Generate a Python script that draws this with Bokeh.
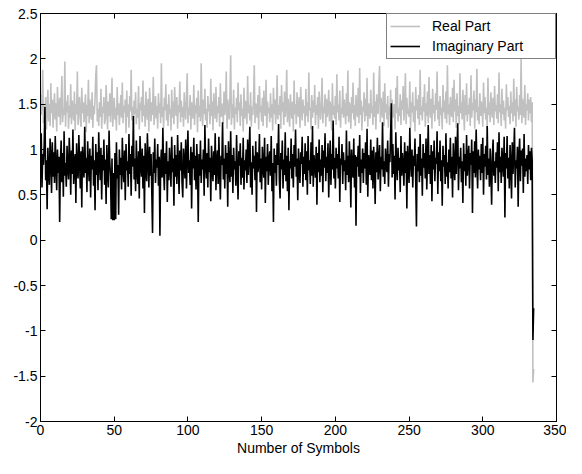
from bokeh.plotting import figure
from bokeh.models import Range1d, FixedTicker, LinearAxis, Legend, LegendItem, ColumnDataSource
from bokeh.embed import file_html
from bokeh.resources import INLINE

# ---- data, two samples per symbol ----
samples_per_symbol = 2

real_part = [
    1.60, 1.38, 1.52, 1.88, 1.29, 1.47, 1.35, 1.58, 1.22, 1.44, 1.66, 1.31, 1.50, 1.26, 1.73, 1.40, 1.55, 1.24, 1.46, 1.62,
    1.33, 1.51, 1.20, 1.69, 1.42, 1.36, 1.57, 1.27, 1.49, 1.81, 1.30, 1.45, 1.38, 1.97, 1.25, 1.53, 1.41, 1.60, 1.23, 1.48,
    1.35, 1.72, 1.28, 1.54, 1.43, 1.32, 1.64, 1.21, 1.50, 1.39, 1.86, 1.27, 1.46, 1.58, 1.34, 1.25, 1.68, 1.40, 1.52, 1.30,
    1.44, 1.61, 1.19, 1.49, 1.37, 1.77, 1.29, 1.55, 1.42, 1.33, 1.63, 1.24, 1.48, 1.39, 1.56, 1.82, 1.93, 1.31, 1.45, 1.26,
    1.52, 1.36, 1.67, 1.23, 1.47, 1.40, 1.58, 1.28, 1.34, 1.71, 1.45, 1.22, 1.53, 1.37, 1.62, 1.30, 1.49, 1.79, 1.25, 1.43,
    1.57, 1.33, 1.46, 1.21, 1.69, 1.38, 1.51, 1.27, 1.44, 1.60, 1.35, 1.74, 1.29, 1.48, 1.41, 1.55, 1.18, 1.65, 1.36, 1.50,
    1.24, 1.59, 1.42, 1.88, 1.32, 1.47, 1.26, 1.54, 1.39, 1.63, 1.28, 1.45, 1.35, 1.70, 1.22, 1.51, 1.43, 1.58, 1.30, 1.76,
    1.37, 1.49, 1.25, 1.64, 1.41, 1.33, 1.56, 1.20, 1.68, 1.46, 1.31, 1.52, 1.38, 1.80, 1.27, 1.45, 1.59, 1.34, 1.48, 1.23,
    1.62, 1.40, 1.51, 1.29, 1.95, 1.36, 1.47, 1.24, 1.57, 1.43, 1.72, 1.32, 1.50, 1.26, 1.61, 1.39, 1.45, 1.21, 1.66, 1.35,
    1.53, 1.28, 1.69, 1.44, 1.37, 1.58, 1.23, 1.49, 1.41, 1.75, 1.30, 1.54, 1.36, 1.47, 1.25, 1.63, 1.42, 1.33, 1.56, 1.84,
    1.29, 1.46, 1.38, 1.60, 1.22, 1.52, 1.44, 1.34, 1.71, 1.27, 1.49, 1.40, 1.57, 1.19, 1.65, 1.36, 1.48, 1.31, 1.95, 1.43,
    1.26, 1.55, 1.39, 1.67, 1.32, 1.45, 1.24, 1.59, 1.42, 1.50, 1.28, 1.78, 1.37, 1.53, 1.21, 1.62, 1.46, 1.34, 1.69, 1.30,
    1.48, 1.40, 1.58, 1.25, 1.73, 1.36, 1.51, 1.44, 1.29, 1.64, 1.38, 1.47, 1.86, 1.23, 1.55, 1.41, 1.33, 1.60, 2.04, 1.27,
    1.50, 1.35, 1.66, 1.22, 1.46, 1.39, 1.57, 1.30, 1.74, 1.43, 1.52, 1.26, 1.61, 1.37, 1.45, 1.20, 1.68, 1.34, 1.54, 1.42,
    1.28, 1.81, 1.40, 1.49, 1.32, 1.63, 1.25, 1.47, 1.38, 1.56, 1.93, 1.29, 1.51, 1.44, 1.35, 1.60, 1.22, 1.70, 1.41, 1.48,
    1.31, 1.57, 1.26, 1.65, 1.43, 1.37, 1.77, 1.24, 1.53, 1.40, 1.46, 1.30, 1.62, 1.35, 1.50, 1.21, 1.68, 1.39, 1.55, 1.28,
    1.44, 1.82, 1.33, 1.49, 1.38, 1.59, 1.23, 1.71, 1.42, 1.52, 1.27, 1.64, 1.36, 1.47, 1.88, 1.30, 1.56, 1.41, 1.25, 1.61,
    1.45, 1.34, 1.53, 1.20, 1.76, 1.39, 1.50, 1.28, 1.63, 1.42, 1.36, 1.58, 1.24, 1.69, 1.44, 1.32, 1.55, 1.40, 1.48, 1.26,
    1.67, 1.37, 1.52, 1.30, 1.85, 1.43, 1.46, 1.22, 1.60, 1.35, 1.54, 1.41, 1.71, 1.27, 1.49, 1.38, 1.58, 1.23, 1.64, 1.45,
    1.33, 1.50, 1.79, 1.29, 1.47, 1.40, 1.61, 1.25, 1.56, 1.36, 1.44, 1.66, 1.31, 1.53, 1.42, 1.21, 1.73, 1.38, 1.48, 1.34,
    1.59, 1.27, 1.83, 1.41, 1.50, 1.32, 1.65, 1.24, 1.46, 1.39, 1.70, 1.35, 1.55, 1.43, 1.28, 1.62, 1.37, 1.87, 1.30, 1.52,
    1.45, 1.23, 1.58, 1.40, 1.74, 1.33, 1.49, 1.26, 1.60, 1.44, 1.36, 1.68, 1.29, 1.90, 1.38, 1.54, 1.21, 1.47, 1.42, 1.63,
    1.31, 1.56, 1.37, 1.79, 1.25, 1.51, 1.44, 1.34, 1.66, 1.40, 1.48, 1.27, 1.85, 1.36, 1.53, 1.22, 1.61, 1.45, 1.39, 1.71,
    1.92, 1.30, 1.57, 1.43, 1.35, 1.64, 1.26, 1.73, 1.41, 1.50, 1.33, 1.59, 1.24, 1.47, 1.38, 1.66, 1.29, 1.55, 1.42, 1.35,
    1.50, 1.22, 1.68, 1.40, 1.81, 1.31, 1.46, 1.37, 1.61, 1.27, 1.54, 1.44, 1.70, 1.32, 1.49, 1.84, 1.28, 1.57, 1.39, 1.45,
    1.36, 1.75, 1.24, 1.52, 1.41, 1.63, 1.30, 1.48, 1.20, 1.69, 1.43, 1.55, 1.34, 1.60, 1.27, 1.88, 1.38, 1.47, 1.32, 1.58,
    1.42, 1.72, 1.25, 1.51, 1.37, 1.64, 1.29, 1.80, 1.45, 1.35, 1.56, 1.23, 1.67, 1.40, 1.49, 1.31, 1.62, 1.44, 1.86, 1.33,
    1.53, 1.26, 1.59, 1.38, 1.46, 1.22, 1.71, 1.41, 1.54, 1.34, 1.64, 1.29, 1.93, 1.39, 1.50, 1.27, 1.58, 1.43, 1.36, 1.68,
    1.30, 1.77, 1.42, 1.55, 1.24, 1.62, 1.37, 1.48, 1.28, 1.84, 1.40, 1.52, 1.33, 1.66, 1.45, 1.21, 1.60, 1.38, 1.73, 1.31,
    1.49, 1.39, 1.57, 1.26, 1.82, 1.35, 1.51, 1.43, 1.65, 1.23, 1.55, 1.41, 1.89, 1.32, 1.47, 1.28, 1.62, 1.37, 1.53, 1.44,
    1.25, 1.74, 1.40, 1.58, 1.33, 1.46, 1.22, 1.79, 1.38, 1.52, 1.30, 1.63, 1.45, 1.35, 1.57, 1.27, 1.70, 1.42, 1.49, 1.34,
    1.61, 1.29, 1.85, 1.41, 1.50, 1.26, 1.67, 1.39, 1.54, 1.32, 1.46, 1.23, 1.72, 1.43, 1.58, 1.36, 1.48, 1.28, 1.64, 1.40,
    1.52, 1.31, 1.78, 1.37, 1.55, 1.25, 1.69, 1.42, 1.47, 1.33, 1.60, 1.38, 2.00, 1.29, 1.56, 1.44, 1.35, 1.71, 1.27, 1.50,
    1.43, 1.62, 1.32, 1.55, 1.40, 1.58, 1.30, 1.52,
    -1.57, -1.42,
]

imag_part = [
    0.72, 1.18, 0.58, 0.95, 0.83, 1.05, 1.47, 0.66, 0.88, 0.34, 1.02, 0.77, 0.61, 1.12, 0.90, 0.52, 1.08, 0.70, 0.97, 0.63,
    1.15, 0.80, 0.55, 1.00, 0.74, 0.92, 0.20, 0.86, 1.10, 0.64, 0.96, 0.48, 1.20, 0.71, 0.85, 0.59, 1.04, 0.79, 0.67, 1.13,
    0.89, 0.50, 0.99, 0.73, 1.22, 0.62, 0.84, 0.95, 0.41, 1.07, 0.76, 0.68, 1.16, 0.87, 0.57, 0.98, 0.36, 1.03, 0.81, 0.69,
    1.25, 0.74, 0.91, 0.53, 1.09, 0.82, 0.65, 1.01, 0.47, 0.93, 0.78, 1.14, 0.60, 0.88, 0.33, 1.06, 0.72, 0.97, 0.55, 1.19,
    0.84, 0.66, 1.02, 0.45, 0.94, 0.77, 1.11, 0.61, 0.89, 0.40, 1.05, 0.75, 0.58, 1.21, 0.86, 0.70, 0.23, 0.90, 0.22, 0.74,
    0.22, 0.96, 0.23, 1.08, 0.68, 0.83, 0.28, 1.00, 0.72, 0.91, 0.56, 1.13, 0.80, 0.64, 0.99, 0.44, 1.06, 0.77, 0.87, 0.59,
    1.17, 0.73, 0.95, 0.49, 1.04, 0.81, 1.37, 0.67, 0.90, 0.54, 1.10, 0.76, 0.62, 0.98, 0.46, 1.15, 0.85, 0.70, 1.01, 0.57,
    0.93, 0.30, 1.07, 0.79, 0.65, 1.18, 0.88, 0.58, 1.03, 0.71, 0.95, 0.52, 0.08, 0.97, 0.74, 1.12, 0.63, 0.89, 0.80, 1.06,
    0.60, 0.92, 0.05, 0.84, 1.00, 0.69, 1.24, 0.78, 0.55, 0.96, 0.73, 1.09, 0.42, 0.87, 0.66, 1.02, 0.81, 0.59, 1.14, 0.75,
    0.90, 0.38, 1.05, 0.70, 0.94, 0.62, 1.16, 0.83, 0.51, 0.99, 0.77, 1.08, 0.64, 0.47, 1.01, 0.86, 0.68, 1.11, 0.57, 0.92,
    1.21, 0.74, 0.88, 0.61, 1.03, 0.35, 0.97, 0.79, 1.13, 0.66, 0.93, 0.56, 1.06, 0.82, 0.20, 0.95, 0.71, 1.10, 0.63, 0.89,
    0.78, 1.00, 0.49, 1.27, 0.84, 0.68, 0.96, 0.58, 1.12, 0.75, 0.91, 0.43, 1.04, 0.80, 0.65, 0.98, 0.72, 1.18, 0.55, 0.87,
    0.99, 0.62, 1.14, 0.76, 0.45, 0.93, 0.83, 1.30, 0.67, 0.90, 0.57, 1.05, 0.73, 0.96, 0.37, 1.09, 0.81, 0.64, 1.20, 0.70,
    0.94, 0.52, 1.02, 0.78, 0.87, 0.60, 1.16, 0.74, 0.45, 0.98, 0.82, 1.07, 0.61, 0.91, 0.69, 1.13, 0.56, 0.88, 0.77, 1.00,
    0.63, 1.11, 0.72, 0.95, 1.25, 0.58, 0.86, 0.50, 1.04, 0.79, 0.93, 0.66, 1.09, 0.31, 0.97, 0.75, 0.84, 1.17, 0.64, 0.90,
    0.56, 1.03, 0.80, 0.69, 1.13, 0.41, 0.92, 0.76, 1.06, 0.61, 0.88, 0.98, 0.71, 1.15, 0.54, 0.85, 0.20, 1.01, 0.74, 0.94,
    0.60, 1.07, 0.83, 1.28, 0.67, 0.46, 0.96, 0.78, 1.10, 0.57, 0.89, 0.72, 1.19, 0.65, 0.93, 0.54, 1.02, 0.33, 0.87, 0.79,
    1.12, 0.68, 0.95, 0.58, 1.05, 0.81, 1.22, 0.70, 0.90, 0.44, 1.01, 0.76, 0.63, 0.97, 0.84, 1.14, 0.59, 0.92, 0.73, 1.07,
    0.66, 0.98, 0.50, 1.15, 0.77, 0.88, 0.62, 1.08, 0.71, 1.26, 0.59, 0.94, 0.82, 0.69, 1.03, 0.39, 0.96, 0.75, 1.11, 0.64,
    0.89, 0.71, 1.05, 0.53, 0.99, 0.80, 1.18, 0.65, 0.92, 0.74, 1.07, 0.47, 0.86, 1.10, 0.61, 0.95, 0.78, 1.32, 0.68, 0.91,
    0.57, 1.02, 0.79, 0.95, 0.68, 1.14, 0.42, 0.90, 0.83, 1.06, 0.62, 0.97, 0.76, 0.88, 0.55, 1.21, 0.72, 0.93, 0.64, 1.09,
    0.85, 0.36, 1.00, 0.77, 0.69, 1.12, 0.58, 0.94, 0.16, 0.92, 0.81, 1.04, 0.70, 1.16, 0.52, 0.89, 0.74, 1.01, 0.63, 0.96,
    0.79, 1.08, 0.61, 1.23, 0.48, 0.94, 0.84, 0.72, 1.11, 0.66, 0.99, 0.57, 1.03, 0.80, 0.40, 0.97, 0.75, 1.13, 0.67, 0.88,
    1.05, 0.54, 0.92, 0.78, 1.30, 0.70, 0.87, 0.62, 1.01, 0.83, 0.75, 1.10, 0.59, 0.95, 0.86, 1.18, 1.51, 0.69, 1.06, 0.73,
    0.93, 0.45, 1.19, 0.81, 0.66, 1.02, 0.77, 0.91, 0.53, 1.15, 0.71, 0.96, 0.84, 0.60, 1.08, 0.74, 0.98, 0.35, 1.04, 0.79,
    0.63, 1.24, 0.87, 0.70, 1.00, 0.58, 0.93, 0.82, 1.12, 0.67, 0.15, 0.95, 0.76, 1.03, 0.64, 1.17, 0.71, 0.90, 0.49, 1.06,
    0.80, 0.96, 0.68, 1.12, 0.56, 0.89, 1.27, 0.73, 0.94, 0.62, 1.05, 0.43, 0.98, 0.78, 1.10, 0.65, 0.91, 0.84, 1.20, 0.51,
    0.97, 0.76, 1.10, 0.65, 0.88, 0.38, 1.04, 0.81, 0.94, 0.62, 1.18, 0.70, 0.86, 0.57, 1.00, 0.75, 1.13, 0.68, 0.92, 0.47,
    1.07, 0.82, 0.66, 1.14, 0.73, 0.99, 1.29, 0.55, 0.92, 0.79, 1.02, 0.64, 0.87, 0.41, 1.07, 0.76, 0.95, 0.60, 1.16, 0.71,
    0.89, 1.04, 0.57, 0.96, 0.83, 1.11, 0.30, 0.98, 0.74, 1.09, 0.69, 1.22, 0.85, 0.57, 1.00, 0.78, 0.93, 0.66, 1.06, 0.74,
    1.13, 0.50, 0.95, 0.81, 1.04, 0.67, 1.26, 0.72, 0.90, 0.59, 1.01, 0.77, 0.39, 0.94, 1.11, 0.71, 0.87, 0.63, 0.97, 0.80,
    1.08, 0.54, 1.19, 0.75, 0.92, 0.63, 1.02, 0.85, 0.70, 1.14, 0.25, 0.96, 0.79, 1.15, 0.68, 0.91, 0.57, 1.05, 0.84, 0.46,
    1.08, 0.73, 0.95, 1.24, 0.58, 0.88, 0.79, 1.03, 0.37, 0.94, 1.12, 0.65, 0.99, 0.82, 1.01, 0.52, 1.17, 0.70, 0.90, 0.76,
    0.94, 0.62, 1.05, 0.78, 0.98, 0.66, 1.02, 0.88,
    -1.10, -0.75,
]

sample_index = list(range(len(real_part)))
symbols = [i / samples_per_symbol for i in sample_index]

x_ticks = [0, 50, 100, 150, 200, 250, 300, 350]
x_tick_labels = ["0", "50", "100", "150", "200", "250", "300", "350"]
y_ticks = [-2, -1.5, -1, -0.5, 0, 0.5, 1, 1.5, 2, 2.5]
y_tick_labels = ["-2", "-1.5", "-1", "-0.5", "0", "0.5", "1", "1.5", "2", "2.5"]

series_labels = ["Real Part", "Imaginary Part"]
x_label = "Number of Symbols"

FONT = "Liberation Sans"

source = ColumnDataSource(data=dict(x=symbols, re=real_part, im=imag_part))

p = figure(width=566, height=458, output_backend="svg", toolbar_location=None,
           x_range=Range1d(0, 350), y_range=Range1d(-2, 2.5),
           min_border_left=40, min_border_right=10, min_border_top=13, min_border_bottom=30)
p.xgrid.visible = False
p.ygrid.visible = False
p.background_fill_color = "white"
p.border_fill_color = "white"
p.outline_line_color = "black"
p.outline_line_width = 1

r_re = p.line("x", "re", source=source, line_color="#c0c0c0", line_width=1.6)
r_im = p.line("x", "im", source=source, line_color="black", line_width=1.6)


def style_axis(ax, ticks, labels, show_labels=True):
    ax.ticker = FixedTicker(ticks=ticks, minor_ticks=[])
    ax.axis_line_color = "black"
    ax.axis_line_width = 1
    ax.major_tick_line_color = "black"
    ax.major_tick_in = 5
    ax.major_tick_out = 0
    ax.minor_tick_line_color = None
    if show_labels:
        ax.major_label_overrides = {t: l for t, l in zip(ticks, labels)}
        ax.major_label_text_font = FONT
        ax.major_label_text_font_size = "14px"
        ax.major_label_text_color = "black"
        ax.major_label_standoff = 3
    else:
        ax.major_label_overrides = {t: "" for t in ticks}
        ax.major_label_text_font_size = "0px"
        ax.major_label_standoff = 0


style_axis(p.xaxis[0], x_ticks, x_tick_labels)
style_axis(p.yaxis[0], y_ticks, y_tick_labels)
p.xaxis[0].axis_label = x_label
p.xaxis[0].axis_label_text_font = FONT
p.xaxis[0].axis_label_text_font_size = "14px"
p.xaxis[0].axis_label_text_font_style = "normal"
p.xaxis[0].axis_label_text_color = "black"
p.xaxis[0].axis_label_standoff = 2

ax_top = LinearAxis()
style_axis(ax_top, x_ticks, x_tick_labels, show_labels=False)
p.add_layout(ax_top, "above")
ax_right = LinearAxis()
style_axis(ax_right, y_ticks, y_tick_labels, show_labels=False)
p.add_layout(ax_right, "right")

legend = Legend(items=[LegendItem(label=series_labels[0], renderers=[r_re]),
                       LegendItem(label=series_labels[1], renderers=[r_im])],
                location="top_right", margin=0, padding=3, spacing=2,
                glyph_width=30, glyph_height=18, label_height=18,
                label_standoff=12, label_width=120,
                border_line_color="black", border_line_width=1,
                background_fill_color="white", background_fill_alpha=1,
                label_text_font=FONT, label_text_font_size="14px", label_text_color="black")
p.add_layout(legend)

open("out.html", "w").write(file_html(p, INLINE))
